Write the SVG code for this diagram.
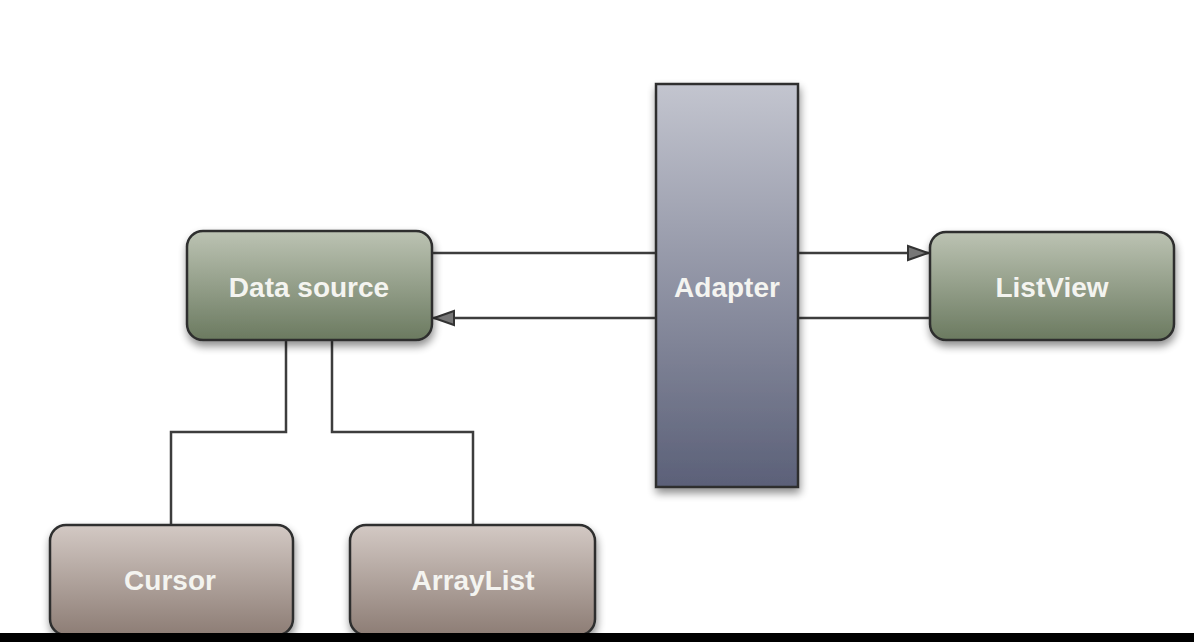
<svg xmlns="http://www.w3.org/2000/svg" width="1194" height="642" viewBox="0 0 1194 642">
<defs>
<linearGradient id="gGreen" x1="0" y1="0" x2="0" y2="1">
<stop offset="0" stop-color="#bcc3b3"/>
<stop offset="1" stop-color="#6b7a60"/>
</linearGradient>
<linearGradient id="gBlue" x1="0" y1="0" x2="0" y2="1">
<stop offset="0" stop-color="#c3c5cf"/>
<stop offset="1" stop-color="#5b6078"/>
</linearGradient>
<linearGradient id="gBrown" x1="0" y1="0" x2="0" y2="1">
<stop offset="0" stop-color="#d3c9c4"/>
<stop offset="1" stop-color="#8d7d75"/>
</linearGradient>
<filter id="sh" x="-10%" y="-10%" width="130%" height="130%">
<feGaussianBlur in="SourceAlpha" stdDeviation="4"/>
<feOffset dx="1" dy="5" result="b"/>
<feComponentTransfer><feFuncA type="linear" slope="0.45"/></feComponentTransfer>
<feMerge><feMergeNode/><feMergeNode in="SourceGraphic"/></feMerge>
</filter>
<marker id="arrBig" viewBox="0 0 22 18" refX="22" refY="9" markerWidth="22" markerHeight="18" markerUnits="userSpaceOnUse" orient="auto">
<path d="M1,2 L21,9 L1,16 z" fill="#777" stroke="#333" stroke-width="2"/>
</marker>
</defs>
<style>
.node{stroke:#2d2e2e;stroke-width:2.5;filter:url(#sh)}
.lbl{font-family:"Liberation Sans",Arial,sans-serif;font-weight:bold;font-size:28px;fill:#f4f4f0;text-anchor:middle;dominant-baseline:central}
.conn{fill:none;stroke:#3d3d3d;stroke-width:2.5}
</style>
<rect width="1194" height="642" fill="#ffffff"/>
<g id="connectors">
<line class="conn" x1="432" y1="253" x2="656" y2="253"/>
<line class="conn" x1="798" y1="253" x2="929" y2="253" marker-end="url(#arrBig)"/>
<line class="conn" x1="930" y1="318" x2="798" y2="318"/>
<line class="conn" x1="656" y1="318" x2="433" y2="318" marker-end="url(#arrBig)"/>
<polyline class="conn" points="286,340 286,432 171,432 171,525"/>
<polyline class="conn" points="332,340 332,432 473,432 473,525"/>
</g>
<g id="adapter">
<rect class="node" x="656" y="84" width="142" height="403" fill="url(#gBlue)"/>
<text class="lbl" x="727" y="287">Adapter</text>
</g>
<g id="datasource">
<rect class="node" x="187" y="231" width="245" height="109" rx="16" fill="url(#gGreen)"/>
<text class="lbl" x="309" y="287">Data source</text>
</g>
<g id="listview">
<rect class="node" x="930" y="232" width="244" height="108" rx="16" fill="url(#gGreen)"/>
<text class="lbl" x="1052" y="287">ListView</text>
</g>
<g id="cursor">
<rect class="node" x="50" y="525" width="243" height="110" rx="16" fill="url(#gBrown)"/>
<text class="lbl" x="170" y="580">Cursor</text>
</g>
<g id="arraylist">
<rect class="node" x="350" y="525" width="245" height="110" rx="16" fill="url(#gBrown)"/>
<text class="lbl" x="473" y="580">ArrayList</text>
</g>
<rect x="0" y="633" width="1194" height="9" fill="#000000"/>
</svg>
